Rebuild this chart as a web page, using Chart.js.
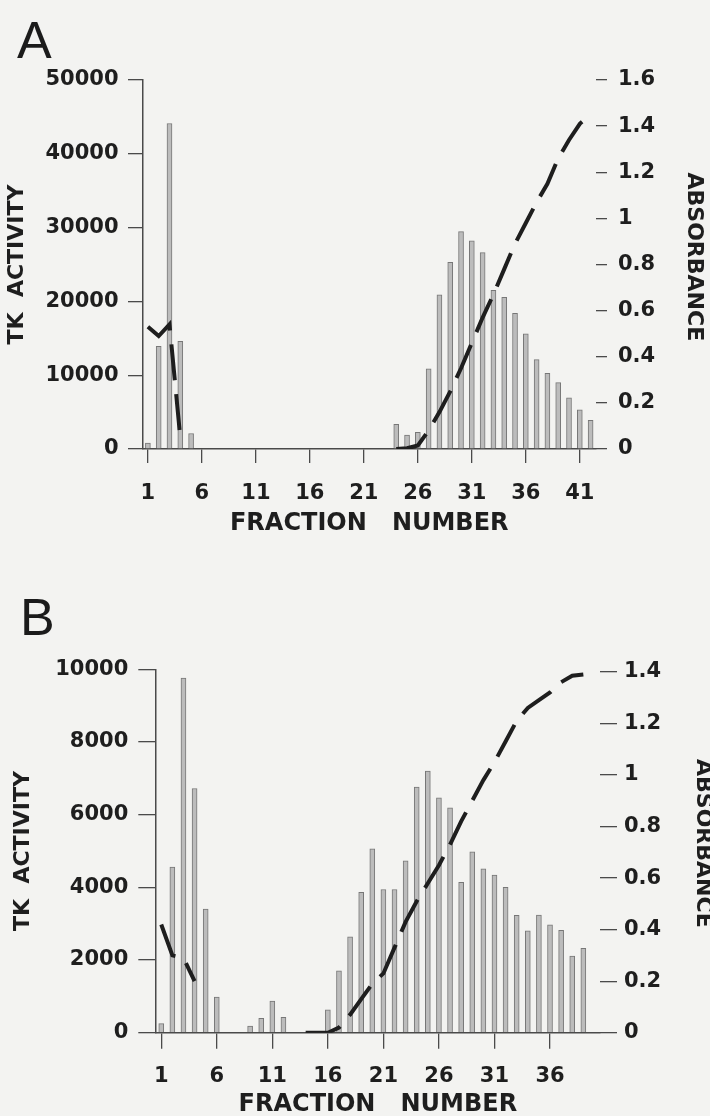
<!DOCTYPE html>
<html lang="en">
<head>
<meta charset="UTF-8">
<title>TK activity / absorbance profiles</title>
<script src="https://cdn.jsdelivr.net/npm/chart.js@4.4.0/dist/chart.umd.min.js"></script>
<style>
  html, body { margin: 0; padding: 0; background: #f3f3f1; overflow: hidden; }
  body { position: relative; width: 710px; height: 1116px; }
  .panel-label { position: absolute; font-family: "Liberation Sans", Arial, sans-serif; font-size: 52px; line-height: 1; color: #1b1b1b; }
  #chartA { position: absolute; left: 0; top: 0; }
  #chartB { position: absolute; left: 0; top: 560px; }
</style>
</head>
<body>
<div class="panel-label" style="left:17px; top:14px">A</div>
<div class="panel-label" style="left:20px; top:591px">B</div>
<canvas id="chartA" width="710" height="560"></canvas>
<canvas id="chartB" width="720" height="570"></canvas>

<script>
  // ---- panel A ----
  const fractionsA = [1, 2, 3, 4, 5, 6, 7, 8, 9, 10, 11, 12, 13, 14, 15, 16, 17, 18, 19, 20, 21,
    22, 23, 24, 25, 26, 27, 28, 29, 30, 31, 32, 33, 34, 35, 36, 37, 38, 39, 40, 41, 42];
  const tkA = [800, 13900, 44100, 14600, 2100,
    null, null, null, null, null, null, null, null, null, null, null, null, null, null, null, null, null, null,
    3350, 1900, 2260, 10850, 20900, 25300, 29450, 28200, 26600, 21500, 20550, 18400, 15600, 12100,
    10250, 9000, 6950, 5300, 3900];
  const absA = [0.53, 0.49, 0.54, 0.05,
    null, null, null, null, null, null, null, null, null, null, null, null, null, null, null, null, null, null, null,
    0, 0.003, 0.015, 0.08, 0.16, 0.25, 0.35, 0.46, 0.57, 0.67, 0.78, 0.89, 0.98, 1.07, 1.15, 1.26,
    1.34, 1.41, 1.45];
  const xTicksA = [1, 6, 11, 16, 21, 26, 31, 36, 41];
  const tkTicksA = [0, 10000, 20000, 30000, 40000, 50000];
  const absTicksA = [0, 0.2, 0.4, 0.6, 0.8, 1, 1.2, 1.4, 1.6];

  // ---- panel B ----
  const fractionsB = [1, 2, 3, 4, 5, 6, 7, 8, 9, 10, 11, 12, 13, 14, 15, 16, 17, 18, 19, 20,
    21, 22, 23, 24, 25, 26, 27, 28, 29, 30, 31, 32, 33, 34, 35, 36, 37, 38, 39, 40];
  const tkB = [250, 4560, 9760, 6720, 3400, 980, null, null, 180, 395, 870, 420, null, null, null,
    630, 1700, 2640, 3860, 5060, 3940, 3940, 4730, 6760, 7200, 6460, 6190, 4140, 4980, 4510,
    4340, 4000, 3230, 2800, 3240, 2970, 2820, 2110, 2320, null];
  const absB = [0.42, 0.30, 0.29, 0.20,
    null, null, null, null, null, null, null, null, null,
    0, 0, 0, 0.02, 0.07, 0.13, 0.19, 0.23, 0.33, 0.43, 0.51, 0.58, 0.65, 0.73, 0.82, 0.90,
    0.98, 1.05, 1.13, 1.21, 1.26, 1.29, 1.32, 1.36, 1.385, 1.39, null];
  const xTicksB = [1, 6, 11, 16, 21, 26, 31, 36];
  const tkTicksB = [0, 2000, 4000, 6000, 8000, 10000];
  const absTicksB = [0, 0.2, 0.4, 0.6, 0.8, 1, 1.2, 1.4];

  const INK = '#1e1e1e';
  const AXIS = '#4a4a4a';
  const BAR_FILL = '#bcbcbc';
  const BAR_EDGE = '#777777';
  const FONT = "'DejaVu Sans', 'Liberation Sans', sans-serif";

  function renderPanel(canvasId, d, g) {
    const tickFont = { family: FONT, size: 21, weight: 'bold' };
    const titleFont = { family: FONT, size: 22, weight: 'bold' };

    const config = {
      type: 'bar',
      data: {
        labels: d.fractions,
        datasets: [
          {
            type: 'line',
            data: d.absorbance,
            yAxisID: 'yAbs',
            borderColor: INK,
            borderWidth: 4,
            borderDash: [36, 14],
            borderCapStyle: 'butt',
            pointRadius: 0,
            spanGaps: false,
            tension: 0,
            order: 0
          },
          {
            type: 'bar',
            data: d.activity,
            yAxisID: 'yTk',
            backgroundColor: BAR_FILL,
            borderColor: BAR_EDGE,
            borderWidth: 1,
            barThickness: 5,
            order: 1
          }
        ]
      },
      options: {
        responsive: false,
        animation: false,
        events: [],
        layout: { padding: { top: g.top, left: 0, right: 0, bottom: 0 } },
        plugins: { legend: { display: false }, tooltip: { enabled: false } },
        scales: {
          x: {
            position: 'bottom',
            offset: true,
            grid: {
              drawOnChartArea: false,
              offset: false,
              tickLength: g.xTick,
              lineWidth: 1.3,
              color: (c) => d.xTicks.includes(d.fractions[c.index]) ? AXIS : 'rgba(0,0,0,0)'
            },
            border: { display: true, color: AXIS, width: 1.5 },
            ticks: {
              autoSkip: false,
              maxRotation: 0,
              minRotation: 0,
              padding: g.xPad,
              color: INK,
              font: tickFont,
              callback: function (v) {
                const lab = this.getLabelForValue(v);
                return d.xTicks.includes(lab) ? String(lab) : '';
              }
            },
            title: {
              display: true,
              text: 'FRACTION   NUMBER',
              color: INK,
              font: { family: FONT, size: 24, weight: 'bold' },
              padding: { top: 0, bottom: g.xTitlePad }
            },
            afterFit: (s) => { s.height = g.xHeight; }
          },
          yTk: {
            position: 'left',
            min: 0,
            max: d.tkTicks[d.tkTicks.length - 1],
            grid: { drawOnChartArea: false, tickLength: g.lTick, lineWidth: 1.3, color: AXIS },
            border: { display: true, color: AXIS, width: 1.5 },
            ticks: { padding: g.lPad, color: INK, font: tickFont, callback: (v) => String(v) },
            afterBuildTicks: (s) => { s.ticks = d.tkTicks.map((v) => ({ value: v })); },
            title: {
              display: true,
              text: 'TK  ACTIVITY',
              color: INK,
              font: titleFont,
              padding: { top: g.lTitlePad, bottom: 0 }
            },
            afterFit: (s) => { s.width = g.left; }
          },
          yAbs: {
            position: 'right',
            min: 0,
            max: g.absMax,
            grid: { drawOnChartArea: false, tickLength: g.rTick, lineWidth: 1.3, color: AXIS },
            border: { display: false },
            ticks: { padding: g.rPad, color: INK, font: tickFont, callback: (v) => String(+v.toFixed(1)) },
            afterBuildTicks: (s) => { s.ticks = d.absTicks.map((v) => ({ value: v })); },
            title: {
              display: true,
              text: 'ABSORBANCE  ',
              color: INK,
              font: titleFont,
              padding: { top: g.rTitlePad, bottom: 0 }
            },
            afterFit: (s) => { s.width = g.right; }
          }
        }
      }
    };

    return new Chart(document.getElementById(canvasId), config);
  }

  renderPanel('chartA',
    { fractions: fractionsA, activity: tkA, absorbance: absA, xTicks: xTicksA, tkTicks: tkTicksA, absTicks: absTicksA },
    { top: 80, left: 142.5, right: 114, xHeight: 111, absMax: 1.6,
      xTick: 14, xPad: 18, xTitlePad: 22, lTick: 14.5, lPad: 9.5, lTitlePad: 4.3,
      rTick: 11, rPad: 11, rTitlePad: 3.5 });

  renderPanel('chartB',
    { fractions: fractionsB, activity: tkB, absorbance: absB, xTicks: xTicksB, tkTicks: tkTicksB, absTicks: absTicksB },
    { top: 109.3, left: 155.7, right: 120, xHeight: 97.3, absMax: 1.41,
      xTick: 16, xPad: 15.7, xTitlePad: 10.6, lTick: 17.4, lPad: 10, lTitlePad: 10.1,
      rTick: 17, rPad: 7, rTitlePad: 3.8 });
</script>
</body>
</html>
